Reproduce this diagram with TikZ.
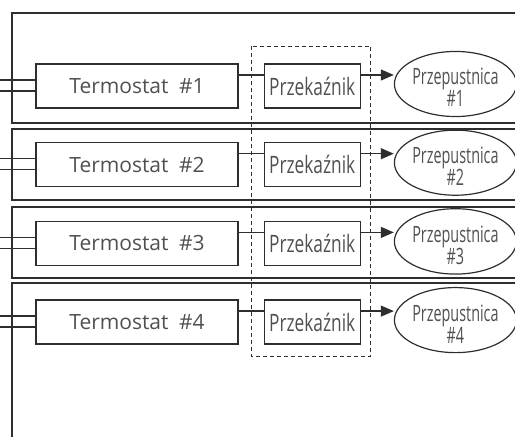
\documentclass[tikz,border=0pt]{standalone}
\usepackage{fontspec}
\setmainfont{Open Sans}
\newfontfamily\narrowfont[FakeStretch=0.72]{Open Sans}
\newfontfamily\narrowerfont[FakeStretch=0.64]{Open Sans}
\usetikzlibrary{arrows.meta,positioning,calc,shapes.geometric}
\definecolor{wire}{HTML}{2E2E2E}
\definecolor{txt}{HTML}{505050}
\tikzset{
  thermo/.style={draw=wire, line width=1.2pt, minimum width=202pt, minimum height=44pt, inner sep=0pt, text=txt, font=\fontsize{21}{24}\selectfont},
  relay/.style={draw=wire, line width=1.2pt, minimum width=96pt, minimum height=44pt, inner sep=0pt, text=txt, font=\narrowfont\fontsize{24}{26}\selectfont},
  valve/.style={ellipse, draw=wire, line width=1.2pt, minimum width=112pt, minimum height=48pt, inner sep=0pt, align=center, text=txt, font=\narrowerfont\fontsize{22.5}{22}\selectfont},
  zone/.style={draw=wire, line width=1.5pt},
  line/.style={draw=wire, line width=1.2pt},
  arrow/.style={-{Triangle[length=13pt,width=11pt]}, draw=wire, fill=wire, line width=1.2pt},
  group/.style={draw=wire, line width=1.2pt, dash pattern=on 4pt off 3pt}
}
\newcommand{\lowtext}{\rule{0pt}{24pt}}
\begin{document}
\begin{tikzpicture}[x=1pt, y=1pt, node distance=33.5pt]
\useasboundingbox (0,0) rectangle (515,437);
% zones
\draw[zone] (515,424) -- (12,424) -- (12,314) -- (515,314);
\draw[zone] (515,308) -- (12,308) -- (12,237) -- (515,237);
\draw[zone] (515,230) -- (12,230) -- (12,159) -- (515,159);
\draw[zone] (515,154) -- (12,154) -- (12,0);
% thermostats
\node[thermo] (T1) at (137,351) {Termostat\enspace\#1};
\node[thermo, below=of T1] (T2) {Termostat\enspace\#2};
\node[thermo, below=of T2] (T3) {Termostat\enspace\#3};
\node[thermo, below=of T3] (T4) {Termostat\enspace\#4};
% relays
\node[relay, right=25pt of T1] (R1) {Przekaźnik};
\node[relay, right=25pt of T2] (R2) {Przekaźnik};
\node[relay, right=25pt of T3] (R3) {Przekaźnik};
\node[relay, right=25pt of T4] (R4) {Przekaźnik};
% dampers
\node[valve, right=33pt of R1, yshift=2pt] (D1) {\lowtext Przepustnica\\\#1};
\node[valve, right=33pt of R2, yshift=2pt] (D2) {\lowtext Przepustnica\\\#2};
\node[valve, right=33pt of R3, yshift=2pt] (D3) {\lowtext Przepustnica\\\#3};
\node[valve, right=33pt of R4, yshift=2pt] (D4) {\lowtext Przepustnica\\\#4};
% relay group
\draw[group] ($(R1.north west)+(-12,17)$) rectangle ($(R4.south east)+(10,-12)$);
% input wires
\draw[line] ([yshift=6pt]T1.west) -- ++(-36,0);
\draw[line] ([yshift=-5pt]T1.west) -- ++(-36,0);
\draw[line] ([yshift=6pt]T2.west) -- ++(-36,0);
\draw[line] ([yshift=-5pt]T2.west) -- ++(-36,0);
\draw[line] ([yshift=6pt]T3.west) -- ++(-36,0);
\draw[line] ([yshift=-5pt]T3.west) -- ++(-36,0);
\draw[line] ([yshift=6pt]T4.west) -- ++(-36,0);
\draw[line] ([yshift=-5pt]T4.west) -- ++(-36,0);
% thermostat to relay
\draw[line] ([yshift=11pt]T1.east) -- ([yshift=11pt]R1.west);
\draw[line] ([yshift=11pt]T2.east) -- ([yshift=11pt]R2.west);
\draw[line] ([yshift=11pt]T3.east) -- ([yshift=11pt]R3.west);
\draw[line] ([yshift=11pt]T4.east) -- ([yshift=11pt]R4.west);
% relay to damper
\draw[arrow] ([yshift=11pt]R1.east) -- ([yshift=11pt]R1.east -| D1.west);
\draw[arrow] ([yshift=11pt]R2.east) -- ([yshift=11pt]R2.east -| D2.west);
\draw[arrow] ([yshift=11pt]R3.east) -- ([yshift=11pt]R3.east -| D3.west);
\draw[arrow] ([yshift=11pt]R4.east) -- ([yshift=11pt]R4.east -| D4.west);
\end{tikzpicture}
\end{document}
